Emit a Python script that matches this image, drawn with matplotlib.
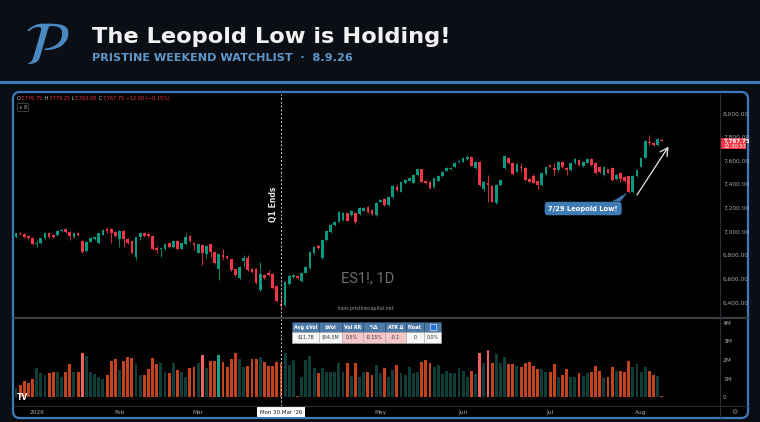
import numpy as np
import matplotlib
matplotlib.use("Agg")
import matplotlib.pyplot as plt
import matplotlib.transforms as mtransforms
from matplotlib.patches import FancyBboxPatch, Rectangle, Polygon
from matplotlib.lines import Line2D

plt.rcParams['font.family'] = ['DejaVu Sans']

# ES1!, 1D  (barras diarias, ultima = sesion en curso)
opens = [
    6957, 6985, 6980, 6963, 6949, 6895, 6906, 6943, 6991, 6971,
    6968, 7005, 7019, 6999, 6951, 6991, 6920, 6836, 6915, 6935,
    6901, 6974, 7019, 7025, 6994, 6937, 7008, 6937, 6920, 6788,
    6957, 6991, 6977, 6965, 6864, 6853, 6856, 6901, 6872, 6918,
    6856, 6895, 6965, 6906, 6822, 6884, 6810, 6892, 6825, 6681,
    6802, 6796, 6765, 6684, 6605, 6751, 6774, 6681, 6681, 6506,
    6633, 6653, 6641, 6540, 6388, 6379, 6557, 6619, 6625, 6585,
    6653, 6689, 6816, 6878, 6774, 6929, 6999, 7056, 7084, 7098,
    7154, 7140, 7160, 7149, 7177, 7211, 7183, 7140, 7253, 7273,
    7225, 7295, 7380, 7338, 7408, 7431, 7414, 7476, 7526, 7431,
    7422, 7380, 7431, 7470, 7515, 7527, 7549, 7586, 7591, 7614,
    7628, 7535, 7586, 7357, 7408, 7386, 7245, 7394, 7535, 7620,
    7577, 7507, 7549, 7535, 7442, 7470, 7428, 7394, 7487, 7563,
    7535, 7521, 7591, 7535, 7521, 7577, 7605, 7555, 7583, 7611,
    7577, 7549, 7478, 7526, 7535, 7442, 7493, 7464, 7470, 7338,
    7470, 7549, 7625, 7760, 7752, 7732, 7776.75]
highs = [
    6992, 6995, 6988, 6970, 6955, 6929, 6950, 6998, 6999, 6980,
    7014, 7024, 7033, 7006, 6992, 6998, 6930, 6921, 6956, 6958,
    6990, 7020, 7042, 7032, 7001, 7012, 7015, 6944, 6927, 6958,
    6999, 6998, 6984, 6972, 6878, 6870, 6899, 6908, 6930, 6925,
    6913, 6985, 6972, 6914, 6899, 6891, 6888, 6899, 6832, 6815,
    6850, 6803, 6772, 6691, 6710, 6802, 6802, 6688, 6688, 6746,
    6640, 6675, 6648, 6547, 6484, 6584, 6632, 6640, 6632, 6660,
    6710, 6837, 6874, 6895, 6936, 7015, 7066, 7091, 7175, 7167,
    7161, 7184, 7167, 7204, 7204, 7218, 7190, 7252, 7274, 7280,
    7302, 7395, 7400, 7429, 7443, 7457, 7485, 7533, 7533, 7438,
    7429, 7457, 7477, 7514, 7542, 7542, 7584, 7607, 7627, 7635,
    7635, 7598, 7593, 7429, 7479, 7393, 7401, 7443, 7646, 7627,
    7584, 7576, 7577, 7542, 7449, 7490, 7435, 7500, 7556, 7570,
    7577, 7598, 7598, 7542, 7590, 7618, 7612, 7593, 7618, 7618,
    7584, 7556, 7556, 7533, 7542, 7485, 7507, 7471, 7477, 7477,
    7528, 7632, 7776, 7817, 7759, 7787, 7779.25]
lows = [
    6948, 6970, 6945, 6936, 6884, 6872, 6898, 6938, 6950, 6950,
    6960, 6999, 6985, 6929, 6944, 6966, 6816, 6828, 6908, 6928,
    6894, 6968, 6985, 6901, 6955, 6872, 6872, 6898, 6812, 6760,
    6929, 6955, 6956, 6842, 6816, 6788, 6848, 6865, 6865, 6842,
    6849, 6888, 6912, 6844, 6815, 6717, 6774, 6782, 6730, 6591,
    6760, 6767, 6668, 6626, 6598, 6703, 6668, 6654, 6555, 6499,
    6598, 6626, 6516, 6406, 6360, 6372, 6550, 6610, 6598, 6578,
    6646, 6682, 6809, 6850, 6767, 6922, 6992, 7049, 7077, 7091,
    7086, 7133, 7060, 7142, 7170, 7161, 7142, 7133, 7246, 7218,
    7218, 7288, 7345, 7331, 7401, 7424, 7407, 7469, 7415, 7401,
    7359, 7366, 7424, 7463, 7508, 7520, 7542, 7579, 7584, 7607,
    7551, 7528, 7387, 7340, 7253, 7246, 7230, 7387, 7528, 7570,
    7480, 7500, 7507, 7429, 7415, 7407, 7357, 7387, 7480, 7542,
    7479, 7514, 7536, 7479, 7514, 7570, 7556, 7548, 7576, 7556,
    7486, 7493, 7471, 7491, 7429, 7435, 7422, 7423, 7330, 7324,
    7463, 7542, 7618, 7732, 7725, 7725, 7763.00]
closes = [
    6985, 6977, 6951, 6943, 6892, 6901, 6943, 6991, 6957, 6957,
    7008, 7016, 6996, 6963, 6985, 6974, 6825, 6915, 6949, 6951,
    6985, 7013, 7008, 6991, 6963, 7005, 6937, 6906, 6822, 6951,
    6985, 6963, 6963, 6850, 6844, 6864, 6892, 6872, 6923, 6850,
    6906, 6957, 6920, 6889, 6892, 6822, 6881, 6830, 6737, 6808,
    6782, 6774, 6675, 6633, 6703, 6774, 6675, 6661, 6562, 6641,
    6605, 6633, 6523, 6413, 6371, 6577, 6625, 6630, 6605, 6653,
    6703, 6830, 6867, 6858, 6929, 7008, 7059, 7084, 7168, 7160,
    7093, 7177, 7084, 7197, 7197, 7168, 7149, 7245, 7267, 7225,
    7295, 7388, 7352, 7422, 7436, 7450, 7478, 7526, 7422, 7408,
    7366, 7450, 7470, 7507, 7535, 7535, 7577, 7600, 7620, 7628,
    7558, 7591, 7394, 7422, 7394, 7253, 7394, 7436, 7639, 7577,
    7487, 7569, 7535, 7436, 7422, 7414, 7394, 7493, 7549, 7549,
    7521, 7591, 7543, 7521, 7583, 7611, 7563, 7586, 7611, 7563,
    7493, 7500, 7549, 7498, 7436, 7478, 7442, 7430, 7338, 7470,
    7521, 7625, 7769, 7746, 7732, 7780, 7767.75]
# volumen en millones de contratos
volumes = [
    0.48, 0.66, 0.88, 0.79, 0.99, 1.59, 1.29, 1.20, 1.29, 1.33,
    1.34, 1.11, 1.38, 1.79, 1.33, 1.33, 2.37, 2.22, 1.36, 1.25,
    1.11, 0.99, 1.20, 1.95, 2.06, 1.47, 1.95, 2.17, 2.09, 1.79,
    1.20, 1.20, 1.52, 2.09, 1.79, 1.82, 1.34, 1.29, 1.82, 1.47,
    1.34, 1.07, 1.55, 1.64, 1.86, 2.27, 1.55, 1.95, 1.95, 2.27,
    1.91, 1.61, 2.04, 2.40, 2.04, 1.64, 1.70, 2.04, 2.04, 2.14,
    1.91, 1.70, 1.70, 1.91, 1.82, 2.36, 1.75, 2.00, 0.07, 1.11,
    2.00, 2.22, 1.55, 1.29, 1.55, 1.38, 1.38, 1.38, 1.82, 1.38,
    1.82, 1.14, 1.86, 1.11, 1.38, 1.38, 1.20, 1.73, 1.32, 1.55,
    1.11, 1.47, 1.73, 1.29, 1.20, 1.61, 1.29, 1.38, 1.91, 2.00,
    1.82, 1.65, 1.73, 1.23, 1.43, 1.29, 1.29, 1.57, 1.43, 1.11,
    1.39, 1.25, 2.40, 1.82, 2.54, 1.86, 2.31, 1.86, 2.14, 1.79,
    1.79, 1.68, 1.61, 1.82, 1.88, 1.68, 1.50, 1.52, 1.38, 1.34,
    1.79, 1.11, 1.20, 1.52, 1.07, 1.07, 1.29, 1.14, 1.29, 1.34,
    1.70, 1.39, 1.05, 1.07, 1.64, 1.43, 1.39, 1.34, 1.97, 1.64,
    1.77, 1.38, 1.61, 1.43, 1.20, 1.16, 0.04]
hi_vol_bars = [16, 45, 49, 112, 114]

date_ticks = [5, 25, 44, 88, 108, 129, 151]
date_labels = ["2026", "Feb", "Mar", "May", "Jun", "Jul", "Aug"]
q1_end_bar = 64
q1_end_label = "Mon 30 Mar '26"
leopold_bar = 148
last_change = -12.00
last_change_pct = -0.15
countdown = "22:30:53"

price_ticks = [6400, 6600, 6800, 7000, 7200, 7400, 7600, 7800, 8000]
vol_ticks = [0, 1, 2, 3, 4]
vol_labels = ["0", "1M", "2M", "3M", "4M"]

table_head = ["Avg $Vol", "$Vol", "Vol RR", "%\u0394", "ATR \u0394", "Float", ""]
table_vals = ["$11.7B", "$54.5M", "0.5%", "-0.15%", "-0.1", "0", "0.0%"]
table_pink = [False, False, True, True, True, False, False]

# colores
BG = '#0b0e14'
BLUE = '#3d7bb8'
UP = '#089981'
DN = '#f23645'
VOL_UP = '#0f3d38'
VOL_DN = '#c2431d'
VOL_UP_HI = '#1f9e8f'
VOL_DN_HI = '#f0605d'
AXTXT = '#a3a6ad'

W, H = 760, 422


def fx(px):
    return px / W


def fy(py):
    return 1 - py / H


fig = plt.figure(figsize=(W / 100, H / 100), dpi=100)
fig.patch.set_facecolor(BG)

# cabecera
fig.text(fx(47), fy(48), r'$\mathcal{P}$', math_fontfamily='stix', fontsize=44,
         color='#4a88c2', ha='center', va='center')
fig.text(fx(92), fy(37), "The Leopold Low is Holding!", fontsize=16.2,
         weight='bold', color='#f2f2f2', ha='left', va='center')
fig.text(fx(92), fy(58), "PRISTINE WEEKEND WATCHLIST  \u00b7  8.9.26", fontsize=8.1,
         weight='bold', color='#5e97c9', ha='left', va='center')
fig.add_artist(Line2D([0, 1], [fy(82), fy(82)], color=BLUE, lw=2.2,
                      transform=fig.transFigure))

# panel del grafico
panel = FancyBboxPatch((fx(13), fy(418)), fx(748) - fx(13), fy(92) - fy(418),
                       boxstyle="round,pad=0,rounding_size=0.009",
                       mutation_aspect=W / H, transform=fig.transFigure,
                       fc='black', ec=BLUE, lw=1.6, zorder=-1)
fig.add_artist(panel)

ax_p = fig.add_axes([fx(14), fy(317), fx(720) - fx(14), fy(94) - fy(317)])
ax_v = fig.add_axes([fx(14), fy(406), fx(720) - fx(14), fy(319) - fy(406)])
for ax in (ax_p, ax_v):
    ax.set_facecolor('none')
    for s in ax.spines.values():
        s.set_visible(False)

o = np.array(opens, dtype=float)
h = np.array(highs, dtype=float)
l = np.array(lows, dtype=float)
c = np.array(closes, dtype=float)
x = np.arange(len(o))
up = c >= o
cols = np.where(up, UP, DN)

# velas
ax_p.vlines(x, l, h, colors=cols, lw=0.6)
ax_p.bar(x, np.maximum(np.abs(c - o), 4), bottom=np.minimum(o, c),
         width=0.66, color=cols, lw=0)

x_lo, x_hi = -0.48, 170.05
ax_p.set_xlim(x_lo, x_hi)
ax_p.set_ylim(6278, 8163)
ax_p.set_xticks([])
ax_p.yaxis.tick_right()
ax_p.set_yticks(price_ticks)
ax_p.set_yticklabels([f"{p:,.2f}" for p in price_ticks])
ax_p.tick_params(axis='y', length=0, pad=2.2, labelsize=4.2, labelcolor=AXTXT)

# volumen
vcols = []
for i in range(len(volumes)):
    if i in hi_vol_bars:
        vcols.append(VOL_UP_HI if up[i] else VOL_DN_HI)
    else:
        vcols.append(VOL_UP if up[i] else VOL_DN)
ax_v.bar(x, volumes, width=0.7, color=vcols, lw=0)
ax_v.set_xlim(x_lo, x_hi)
ax_v.set_ylim(-0.47, 4.2)
ax_v.yaxis.tick_right()
ax_v.set_yticks(vol_ticks)
ax_v.set_yticklabels(vol_labels)
ax_v.set_xticks(date_ticks)
ax_v.set_xticklabels(date_labels)
ax_v.tick_params(axis='y', length=0, pad=2.2, labelsize=4.2, labelcolor=AXTXT)
ax_v.tick_params(axis='x', length=0, pad=2.8, labelsize=4.2, labelcolor=AXTXT)

# lineas del marco
fig.add_artist(Line2D([fx(14), fx(747)], [fy(318), fy(318)], color='#3a3d45',
                      lw=1.6, transform=fig.transFigure))
fig.add_artist(Line2D([fx(14), fx(747)], [fy(406), fy(406)], color='#2a2d35',
                      lw=0.8, transform=fig.transFigure))
fig.add_artist(Line2D([fx(720), fx(720)], [fy(94), fy(417)], color='#2a2d35',
                      lw=0.8, transform=fig.transFigure))

# fin de Q1
for ax in (ax_p, ax_v):
    ax.axvline(q1_end_bar, color='#d0d0d0', lw=0.7, ls=(0, (2, 2)))
ax_p.text(q1_end_bar - 1.9, 7230, "Q1 Ends", rotation=90, ha='center',
          va='center', fontsize=5.6, weight='bold', color='#e6e6e6')
trans_x = mtransforms.blended_transform_factory(ax_v.transData, ax_v.transAxes)
ax_v.text(q1_end_bar, -0.07, q1_end_label, transform=trans_x, ha='center',
          va='center', fontsize=3.9, color='#131722', clip_on=False,
          bbox=dict(boxstyle='square,pad=0.45', fc='white', ec='none'))

# marca de agua
fig.text(fx(367.5), fy(278), "ES1!, 1D", family='Roboto', fontsize=10.5,
         color='#6e6e6e', ha='center', va='center')
fig.text(fx(366.5), fy(308.7), "tools.pristinecapital.net", fontsize=3.4,
         color='#9a9a9a', ha='center', va='center')

# precio actual en el eje
ymin, ymax = ax_p.get_ylim()
ppu = (317 - 94) / (ymax - ymin)
trans_y = mtransforms.blended_transform_factory(ax_p.transAxes, ax_p.transData)
ax_p.add_patch(Rectangle((1 + 1.0 / 706, c[-1] - 8.7 / ppu), 24.5 / 706, 11.5 / ppu,
                         transform=trans_y, fc=DN, ec='none', clip_on=False))
ax_p.text(1 + 4.0 / 706, c[-1] - 0.7 / ppu, f"{c[-1]:,.2f}", transform=trans_y,
          ha='left', va='center', fontsize=3.9, weight='bold', color='white',
          clip_on=False)
ax_p.text(1 + 4.0 / 706, c[-1] - 5.5 / ppu, countdown, transform=trans_y,
          ha='left', va='center', fontsize=3.7, color='white', clip_on=False)

# leyenda OHLC, cada trozo se encadena tras el anterior
pieces = [("O", '#c8c8c8'), (f"{o[-1]:,.2f}", DN), (" H", '#c8c8c8'),
          (f"{h[-1]:,.2f}", DN), (" L", '#c8c8c8'), (f"{l[-1]:,.2f}", DN),
          (" C", '#c8c8c8'), (f"{c[-1]:,.2f}", DN),
          (f" \u2212{abs(last_change):.2f} (\u2212{abs(last_change_pct):.2f}%)", DN)]
anchor = None
for s, col in pieces:
    if anchor is None:
        anchor = ax_p.annotate(s, xy=(fx(17), fy(98.5)), xycoords='figure fraction',
                               fontsize=3.6, color=col, ha='left', va='center',
                               annotation_clip=False)
    else:
        anchor = ax_p.annotate(s, xy=(1, 0.5), xycoords=anchor, fontsize=3.6,
                               color=col, ha='left', va='center',
                               annotation_clip=False)
fig.text(fx(19), fy(107.5), "\u2228 8", fontsize=3.4, color='#c8c8c8', ha='left',
         va='center', bbox=dict(boxstyle='round,pad=0.35', fc='black',
                                ec='#555555', lw=0.5))

# logo TV y engranaje
fig.text(fx(17), fy(397.5), "TV", fontsize=5.5, weight='bold', color='white',
         ha='left', va='center')
fig.text(fx(734), fy(411.5), "\u2699", fontsize=5, color='#8a8a8a',
         ha='center', va='center')

# llamada Leopold Low
tip_x = leopold_bar - 0.3
tip_y = l[leopold_bar]
ax_p.add_patch(Polygon([(leopold_bar - 4.0, 7255), (leopold_bar - 2.0, 7255),
                        (tip_x, tip_y)], closed=True, fc='#3f7ab3', ec='none'))
ax_p.text(leopold_bar - 11, 7195, "7/29 Leopold Low!", ha='center', va='center',
          fontsize=4.9, weight='bold', color='white',
          bbox=dict(boxstyle='round,pad=0.55,rounding_size=0.5', fc='#3f7ab3',
                    ec='none'))
ax_p.annotate('', xy=(leopold_bar + 9.6, c[-1] - 50),
              xytext=(leopold_bar + 2, tip_y - 20),
              arrowprops=dict(arrowstyle='->,head_length=0.55,head_width=0.3',
                              color='#e8e8e8', lw=0.9, shrinkA=0, shrinkB=0))

# tabla de estadisticas
col_edges = [292.3, 319.3, 341.7, 362.7, 385.0, 405.7, 424.3, 440.7]
row_edges = [322.3, 332.3, 343.3]
for j in range(len(table_head)):
    x0, x1 = col_edges[j], col_edges[j + 1]
    fig.add_artist(Rectangle((fx(x0), fy(row_edges[1])), fx(x1) - fx(x0),
                             fy(row_edges[0]) - fy(row_edges[1]),
                             transform=fig.transFigure, fc='#4d7aa6',
                             ec='#2d4d70', lw=0.4, zorder=5))
    fig.add_artist(Rectangle((fx(x0), fy(row_edges[2])), fx(x1) - fx(x0),
                             fy(row_edges[1]) - fy(row_edges[2]),
                             transform=fig.transFigure,
                             fc='#f7c6c8' if table_pink[j] else '#f7f7f7',
                             ec='#b8b8b8', lw=0.4, zorder=5))
    xc = (x0 + x1) / 2
    if table_head[j]:
        fig.text(fx(xc), fy(327.3), table_head[j], fontsize=3.4, weight='bold',
                 color='white', ha='center', va='center', zorder=6)
    else:
        fig.add_artist(Rectangle((fx(xc - 3), fy(330.3)), fx(6), 6 / H,
                                 transform=fig.transFigure, fc='#2370d8',
                                 ec='#cfe0f5', lw=0.5, zorder=6))
    fig.text(fx(xc), fy(337.8), table_vals[j], fontsize=3.4, color='#333333',
             ha='center', va='center', zorder=6)

fig.savefig('out.png', dpi=100, facecolor=BG)
